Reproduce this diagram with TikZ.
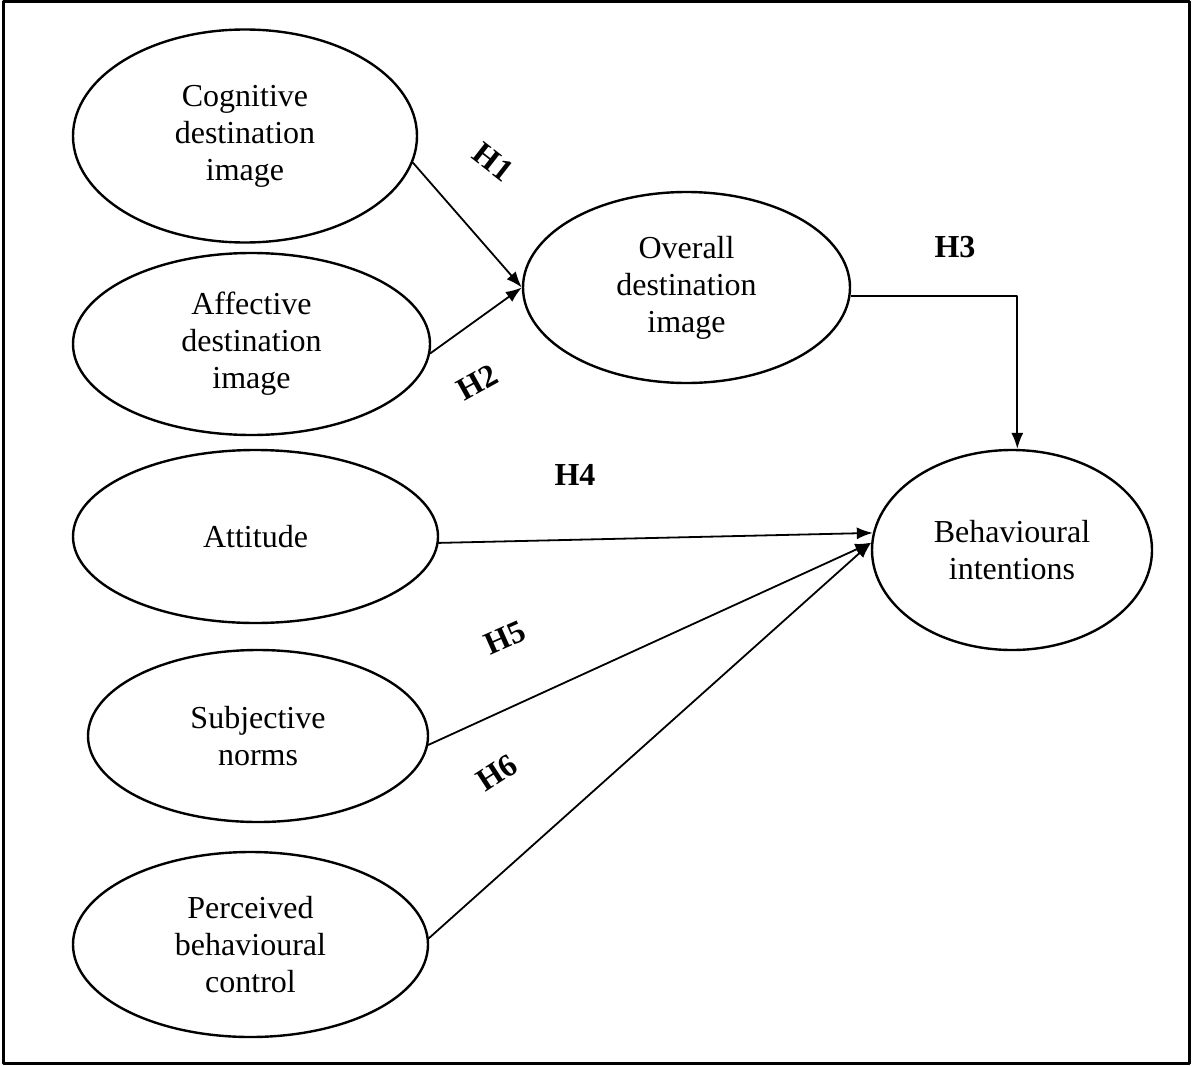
\documentclass[tikz,border=0pt]{standalone}
\usepackage{fontspec}
\setmainfont{Liberation Serif}
\usetikzlibrary{shapes.geometric}
\usetikzlibrary{arrows.meta}

\tikzset{
  construct/.style={draw, ellipse, line width=1.2pt, inner sep=0pt, align=center,
    font=\fontsize{16}{18.5}\selectfont},
  link/.style={-{Latex[length=8pt,width=6pt]}, line width=0.9pt},
  hyp/.style={font=\fontsize{16}{18}\selectfont\bfseries, inner sep=0pt},
}

\begin{document}
\begin{tikzpicture}[line cap=round,line join=round,x=0.5pt,y=-0.5pt]
\useasboundingbox (0,0) rectangle (1192,1065);
\draw[line width=1.5pt] (3,2) rectangle (1189,1063);

\node[construct, minimum width=172pt, minimum height=106.5pt] (cog) at (245,136) {Cognitive\\destination\\image};
\node[construct, minimum width=178.5pt, minimum height=91pt] (aff) at (251.5,344) {Affective\\destination\\image};
\node[construct, minimum width=163.5pt, minimum height=95.5pt] (ovr) at (686.5,287.5) {Overall\\destination\\image};
\node[construct, minimum width=182.5pt, minimum height=86.5pt] (att) at (255.5,536.5) {Attitude};
\node[construct, minimum width=170pt, minimum height=86pt] (sub) at (258,736) {Subjective\\norms};
\node[construct, minimum width=177.5pt, minimum height=92.5pt] (pbc) at (250.5,944.5) {Perceived\\behavioural\\control};
\node[construct, minimum width=140pt, minimum height=100pt] (bi) at (1012,550) {Behavioural\\intentions};

\draw[link] (cog.-9) -- (ovr.west);
\draw[link] (aff.-3) -- (ovr.west);
\draw[link,line cap=butt] (ovr.-3) -| (bi.87);
\draw[link] (att.-2) -- (bi.173);
\draw[link] (sub.-3) -- (bi.177);
\draw[link] (pbc.2) -- (bi.177);

\node[hyp, rotate=-38] (h1) at (493,162) {H1};
\node[hyp, rotate=29] (h2) at (477,382) {H2};
\node[hyp] (h3) at (955,247) {H3};
\node[hyp] (h4) at (575,475) {H4};
\node[hyp, rotate=24] (h5) at (505,638) {H5};
\node[hyp, rotate=33] (h6) at (497,773) {H6};
\end{tikzpicture}
\end{document}
